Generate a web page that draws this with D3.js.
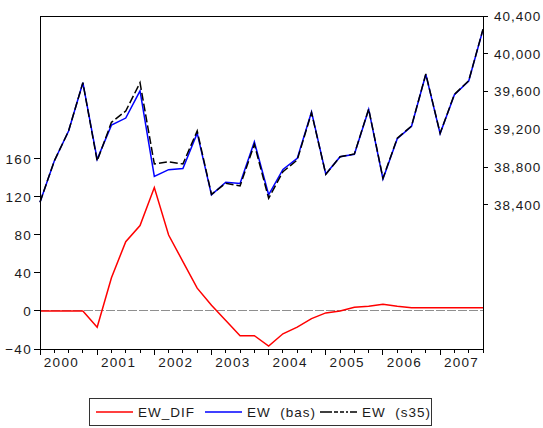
<!DOCTYPE html>
<html><head><meta charset="utf-8">
<script src="https://cdn.jsdelivr.net/npm/d3@7"></script>
<style>
html,body{margin:0;padding:0;background:#fff;}
svg{display:block;font-family:"Liberation Sans",Arial,sans-serif;}
</style></head>
<body>
<svg id="chart" width="543" height="428"></svg>
<script>
// ---- data ----
const years = ["2000","2001","2002","2003","2004","2005","2006","2007"];
const quarters = [];
years.forEach(y => ["Q1","Q2","Q3","Q4"].forEach(q => quarters.push(y + q)));
const ewDif = [0,0,0,0,-17,35,73,90,130,80,52,24,6,-10,-26,-26,-37,-24,-17,-8,-2,0,4,5,7,5,3.5,3.5,3.5,3.5,3.5,3.5];
const ewBas = [38430,38866,39183,39694,38883,39245,39320,39608,38702,38774,38785,39160,38507,38641,38627,39068,38508,38776,38893,39385,38727,38911,38936,39411,38676,39101,39233,39783,39156,39568,39712,40256];
const ewS35 = [38430,38866,39183,39694,38866,39275,39395,39694,38834,38858,38834,39183,38513,38630,38601,39042,38471,38752,38876,39377,38725,38911,38940,39416,38683,39106,39236,39786,39159,39571,39715,40259];
const leftTicks = [-40,0,40,80,120,160];
const rightTicks = [38400,38800,39200,39600,40000,40400];
const seriesNames = ["EW_DIF","EW (bas)","EW (s35)"];

// ---- layout ----
const L = 40, R = 483, T = 16, B = 349;
const svg = d3.select("#chart");
const x = d3.scaleLinear().domain([0, quarters.length - 1]).range([L, R]);
const yL = d3.scaleLinear().domain([-40, 310.5]).range([B, T]);
const yR = d3.scaleLinear().domain([36876, 40400]).range([B, T]);
const txt = "#1a1a1a";
const fs = "13.5px";

// zero line
svg.append("line").attr("x1", L).attr("x2", R).attr("y1", yL(0)).attr("y2", yL(0))
  .attr("stroke", "#8f8f8f").attr("stroke-width", 1).attr("stroke-dasharray", "9,2")
  .attr("shape-rendering", "crispEdges");

// lines
const lineL = d3.line().x((d, i) => x(i)).y(d => yL(d));
const lineR = d3.line().x((d, i) => x(i)).y(d => yR(d));
svg.append("path").datum(ewDif).attr("d", lineL).attr("fill", "none")
  .attr("stroke", "#ff0000").attr("stroke-width", 1.5);
svg.append("path").datum(ewBas).attr("d", lineR).attr("fill", "none")
  .attr("stroke", "#0000ff").attr("stroke-width", 1.5);
svg.append("path").datum(ewS35).attr("d", lineR).attr("fill", "none")
  .attr("stroke", "#000").attr("stroke-width", 1.5).attr("stroke-dasharray", "8,3");

// frame
svg.append("rect").attr("x", L).attr("y", T).attr("width", R - L).attr("height", B - T)
  .attr("fill", "none").attr("stroke", "#000").attr("stroke-width", 1).attr("shape-rendering", "crispEdges");

// left axis
const gL = svg.append("g");
leftTicks.forEach(v => {
  gL.append("line").attr("x1", L - 6).attr("x2", L).attr("y1", yL(v)).attr("y2", yL(v))
    .attr("stroke", "#000").attr("shape-rendering", "crispEdges");
  gL.append("text").attr("x", L - 8).attr("y", yL(v)).attr("dy", "0.36em")
    .attr("text-anchor", "end").attr("font-size", fs).attr("letter-spacing", "1.3px").attr("fill", txt)
    .text(d3.format("d")(v));
});

// right axis
const gR = svg.append("g");
rightTicks.forEach(v => {
  gR.append("line").attr("x1", R).attr("x2", R + 5).attr("y1", yR(v)).attr("y2", yR(v))
    .attr("stroke", "#000").attr("shape-rendering", "crispEdges");
  gR.append("text").attr("x", R + 11).attr("y", yR(v)).attr("dy", "0.36em")
    .attr("text-anchor", "start").attr("font-size", fs).attr("letter-spacing", "1px").attr("fill", txt)
    .text(d3.format(",")(v));
});

// bottom axis
const gB = svg.append("g");
quarters.forEach((q, i) => {
  const major = i % 4 === 0;
  gB.append("line").attr("x1", x(i)).attr("x2", x(i)).attr("y1", B).attr("y2", B + (major ? 6 : 4))
    .attr("stroke", "#000").attr("shape-rendering", "crispEdges");
});
gB.append("line").attr("x1", R).attr("x2", R).attr("y1", B).attr("y2", B + 4)
  .attr("stroke", "#000").attr("shape-rendering", "crispEdges");
years.forEach((y, k) => {
  gB.append("text").attr("x", x(k * 4 + 1.5)).attr("y", B + 18)
    .attr("text-anchor", "middle").attr("font-size", fs).attr("letter-spacing", "1.3px").attr("fill", txt)
    .text(y);
});

// legend
const lg = svg.append("g");
lg.append("rect").attr("x", 89.5).attr("y", 398.5).attr("width", 342).attr("height", 27)
  .attr("fill", "#fff").attr("stroke", "#333").attr("stroke-width", 1);
const items = [
  {name: seriesNames[0], color: "#ff0000", dash: null, x0: 96},
  {name: seriesNames[1], color: "#0000ff", dash: null, x0: 205},
  {name: seriesNames[2], color: "#000", dash: "12,2,4,2,4,2,2,2", x0: 320}
];
items.forEach(it => {
  lg.append("line").attr("x1", it.x0).attr("x2", it.x0 + 37).attr("y1", 412).attr("y2", 412)
    .attr("stroke", it.color).attr("stroke-width", 1.5).attr("stroke-dasharray", it.dash);
  lg.append("text").attr("x", it.x0 + 42).attr("y", 412).attr("dy", "0.36em")
    .attr("font-size", fs).attr("letter-spacing", "1px").attr("fill", txt)
    .attr("xml:space", "preserve").style("white-space", "pre").text(it.name.replace(" ", "  "));
});
</script>
</body></html>
